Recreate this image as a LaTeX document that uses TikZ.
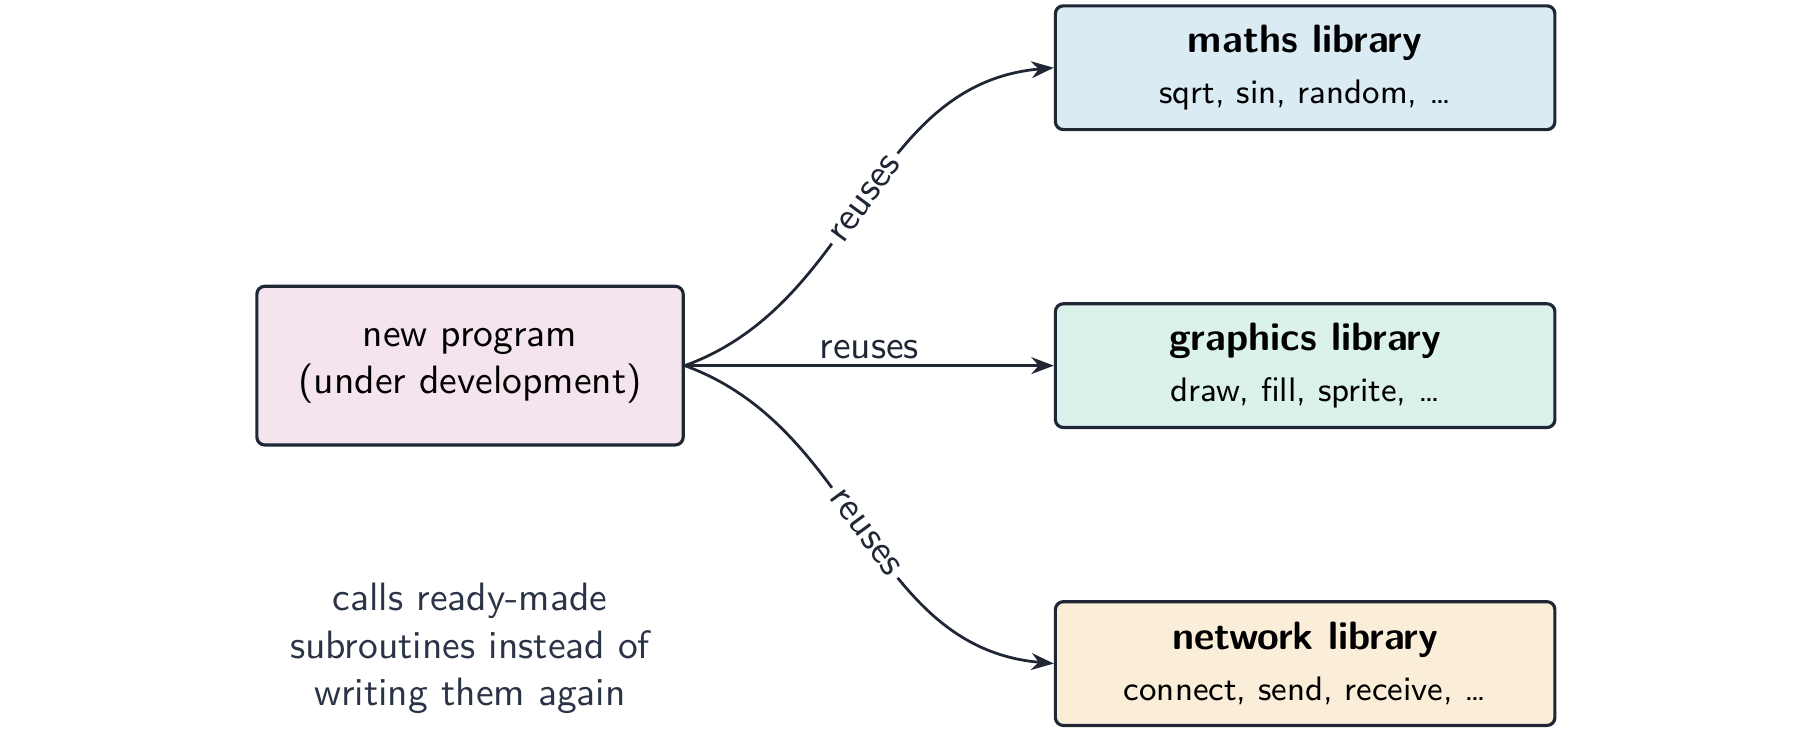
\documentclass[tikz,border=0pt]{standalone}
\usepackage{tikz}
\usetikzlibrary{arrows.meta,positioning}
\definecolor{ink}{HTML}{1F2735}
\definecolor{slate}{HTML}{2A3446}
\definecolor{progbg}{HTML}{F3E4EE}
\definecolor{mathsbg}{HTML}{DBEBF4}
\definecolor{gfxbg}{HTML}{DAF1EC}
\definecolor{netbg}{HTML}{FAEED9}
\newcommand{\libfuncs}[1]{{\fontsize{8.6}{10.5}\selectfont #1}}

\begin{document}
\begin{tikzpicture}[
  font=\sffamily,
  prog/.style={rectangle, rounded corners=2pt, draw=ink, line width=0.8pt, align=center, minimum width=3.79cm, minimum height=1.41cm, fill=progbg},
  lib/.style={rectangle, rounded corners=2pt, draw=ink, line width=0.8pt, align=center, minimum width=4.44cm, minimum height=1.1cm},
  note/.style={align=center, text=slate},
  arrow/.style={-{Stealth[length=2mm]}, line width=0.7pt, draw=ink},
  lbl/.style={midway, sloped, fill=white, inner sep=1.5pt, text=ink}
]
  \useasboundingbox (0,0) rectangle (16,-6.569);

  \node[prog] (prog) at (4.178,-3.25) {new program\\(under development)};
  \node[lib, fill=gfxbg, right=3.28cm of prog] (graphics) {\textbf{graphics library}\\[1pt]\libfuncs{draw, fill, sprite, \ldots}};
  \node[lib, fill=mathsbg, above=1.52cm of graphics] (maths) {\textbf{maths library}\\[1pt]\libfuncs{sqrt, sin, random, \ldots}};
  \node[lib, fill=netbg, below=1.52cm of graphics] (network) {\textbf{network library}\\[1pt]\libfuncs{connect, send, receive, \ldots}};
  \node[note, below=1.09cm of prog] (note) {calls ready-made\\subroutines instead of\\writing them again};

  \draw[arrow] (prog.east) to[out=20, in=185] node[lbl] {reuses} (maths.west);
  \draw[arrow] (prog.east) -- node[midway, above, inner sep=1.3pt, text=ink] {reuses} (graphics.west);
  \draw[arrow] (prog.east) to[out=-20, in=175] node[lbl] {reuses} (network.west);
\end{tikzpicture}
\end{document}
